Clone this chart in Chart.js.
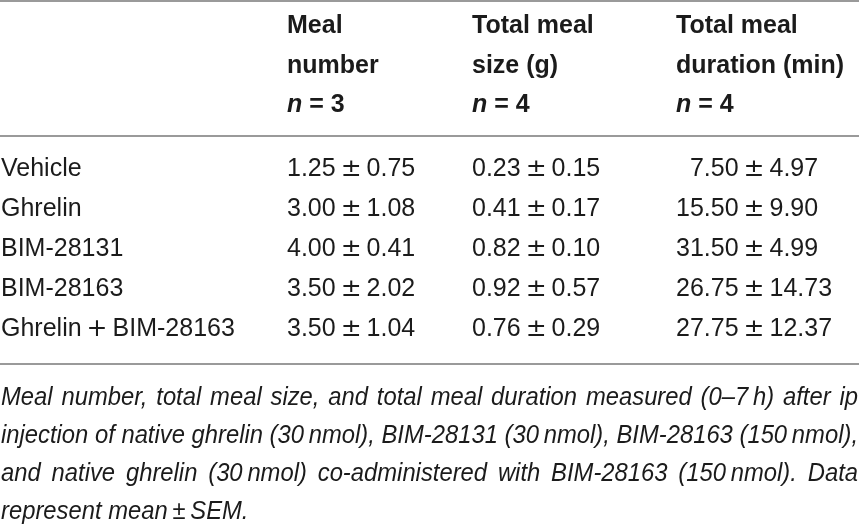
<!DOCTYPE html>
<html>
<head>
<meta charset="utf-8">
<script src="https://cdn.jsdelivr.net/npm/chart.js@4.4.1/dist/chart.umd.min.js"></script>
<style>
  html, body { margin: 0; padding: 0; background: #fff; }
  canvas { display: block; }
</style>
</head>
<body>
<canvas id="mealTable" width="859" height="525"></canvas>
<script>
// table data
const treatments = ['Vehicle', 'Ghrelin', 'BIM-28131', 'BIM-28163', 'Ghrelin + BIM-28163'];
const mealNumberMean = [1.25, 3.00, 4.00, 3.50, 3.50];
const mealNumberSem = [0.75, 1.08, 0.41, 2.02, 1.04];
const mealSizeMean = [0.23, 0.41, 0.82, 0.92, 0.76];
const mealSizeSem = [0.15, 0.17, 0.10, 0.57, 0.29];
const mealDurationMean = [7.50, 15.50, 31.50, 26.75, 27.75];
const mealDurationSem = [4.97, 9.90, 4.99, 14.73, 12.37];
const columnHeaders = [['Meal', 'number'], ['Total meal', 'size (g)'], ['Total meal', 'duration (min)']];
const groupN = [3, 4, 4];
const captionLines = [
  'Meal number, total meal size, and total meal duration measured (0\u20137\u2009h) after ip',
  'injection of native ghrelin (30\u2009nmol), BIM-28131 (30\u2009nmol), BIM-28163 (150\u2009nmol),',
  'and native ghrelin (30\u2009nmol) co-administered with BIM-28163 (150\u2009nmol). Data',
  'represent mean\u2009\u00b1\u2009SEM.'
];

// layout (scale units = page pixels)
const COL_X = [1, 287, 472, 676];
const HEAD_Y = [33, 73, 112];
const ROW_Y0 = 176;
const ROW_STEP = 40;
const RULE_Y = [1, 136, 364];
const CAPTION_Y0 = 405;
const CAPTION_STEP = 38;
const FONT = '"Liberation Sans", Arial, sans-serif';
const SYM = '25px "DejaVu Sans", sans-serif';
const INK = '#1b1b1b';

// split a text so that + and ± come from a wider math-looking font
function textParts(str, font) {
  const out = [];
  str.split(/([+\u00b1])/).forEach(s => {
    if (!s) return;
    if (s === '+' || s === '\u00b1') out.push({ t: s, f: SYM });
    else out.push({ t: s, f: font });
  });
  return out;
}

const fmt = (m, s) => m.toFixed(2) + '\u2009\u00b1\u2009' + s.toFixed(2);

function cellColumn(means, sems, col) {
  return means.map((m, i) => ({
    x: COL_X[col],
    y: ROW_Y0 + i * ROW_STEP,
    parts: textParts((m < 10 && col === 3 ? '\u2007' : '') + fmt(m, sems[i]), '25px ' + FONT)
  }));
}

function headerColumn(col) {
  const lines = columnHeaders[col - 1].map((t, k) => ({
    x: COL_X[col], y: HEAD_Y[k], parts: [{ t: t, f: 'bold 25px ' + FONT }]
  }));
  lines.push({
    x: COL_X[col], y: HEAD_Y[2],
    parts: [{ t: 'n', f: 'italic bold 25px ' + FONT }, { t: ' = ' + groupN[col - 1], f: 'bold 25px ' + FONT }]
  });
  return lines;
}

const datasets = [
  { label: 'Treatment', data: treatments.map((t, i) => ({ x: COL_X[0], y: ROW_Y0 + i * ROW_STEP, parts: textParts(t.replace(' + ', '\u2009+\u2009'), '25px ' + FONT) })) },
  { label: 'Meal number', data: cellColumn(mealNumberMean, mealNumberSem, 1) },
  { label: 'Total meal size', data: cellColumn(mealSizeMean, mealSizeSem, 2) },
  { label: 'Total meal duration', data: cellColumn(mealDurationMean, mealDurationSem, 3) },
  { label: 'h1', data: headerColumn(1) },
  { label: 'h2', data: headerColumn(2) },
  { label: 'h3', data: headerColumn(3) }
];

// draws the text of every point plus the rules and the caption
const tablePlugin = {
  id: 'tableText',
  afterDatasetsDraw(chart) {
    const ctx = chart.ctx;
    const xs = chart.scales.x, ys = chart.scales.y;
    ctx.save();

    // horizontal rules
    ctx.strokeStyle = '#9a9a9a';
    ctx.lineWidth = 2;
    RULE_Y.forEach(v => {
      const py = ys.getPixelForValue(v);
      ctx.beginPath();
      ctx.moveTo(xs.getPixelForValue(xs.min), py);
      ctx.lineTo(xs.getPixelForValue(xs.max), py);
      ctx.stroke();
    });

    // cell text
    ctx.fillStyle = INK;
    ctx.textBaseline = 'alphabetic';
    ctx.textAlign = 'left';
    chart.data.datasets.forEach((ds, i) => {
      chart.getDatasetMeta(i).data.forEach((pt, j) => {
        let cx = pt.x;
        ds.data[j].parts.forEach(p => {
          ctx.font = p.f;
          ctx.fillText(p.t, cx, pt.y);
          cx += ctx.measureText(p.t).width;
        });
      });
    });

    // caption, justified like the original
    ctx.font = 'italic 25px ' + FONT;
    const left = xs.getPixelForValue(COL_X[0]);
    const right = xs.getPixelForValue(xs.max) - 1;
    const width = right - left;
    const squeeze = Math.min(...captionLines.slice(0, 3).map(l => width / ctx.measureText(l).width));
    captionLines.forEach((line, k) => {
      const py = ys.getPixelForValue(CAPTION_Y0 + k * CAPTION_STEP);
      ctx.save();
      ctx.translate(left, py);
      ctx.scale(squeeze, 1);
      if (k === captionLines.length - 1) {
        ctx.fillText(line, 0, 0);
      } else {
        const words = line.split(' ');
        const total = words.reduce((a, w) => a + ctx.measureText(w).width, 0);
        const gap = (width / squeeze - total) / (words.length - 1);
        let wx = 0;
        words.forEach(w => {
          ctx.fillText(w, wx, 0);
          wx += ctx.measureText(w).width + gap;
        });
      }
      ctx.restore();
    });

    ctx.restore();
  }
};

const ctx = document.getElementById('mealTable').getContext('2d');
const mealTable = new Chart(ctx, {
  type: 'scatter',
  data: { datasets: datasets },
  options: {
    responsive: false,
    animation: false,
    events: [],
    layout: { padding: 0 },
    elements: { point: { radius: 0, hoverRadius: 0 } },
    plugins: { legend: { display: false }, tooltip: { enabled: false } },
    scales: {
      x: { type: 'linear', min: 0, max: 859, display: false },
      y: { type: 'linear', min: 0, max: 525, reverse: true, display: false }
    }
  },
  plugins: [tablePlugin]
});
</script>
</body>
</html>
